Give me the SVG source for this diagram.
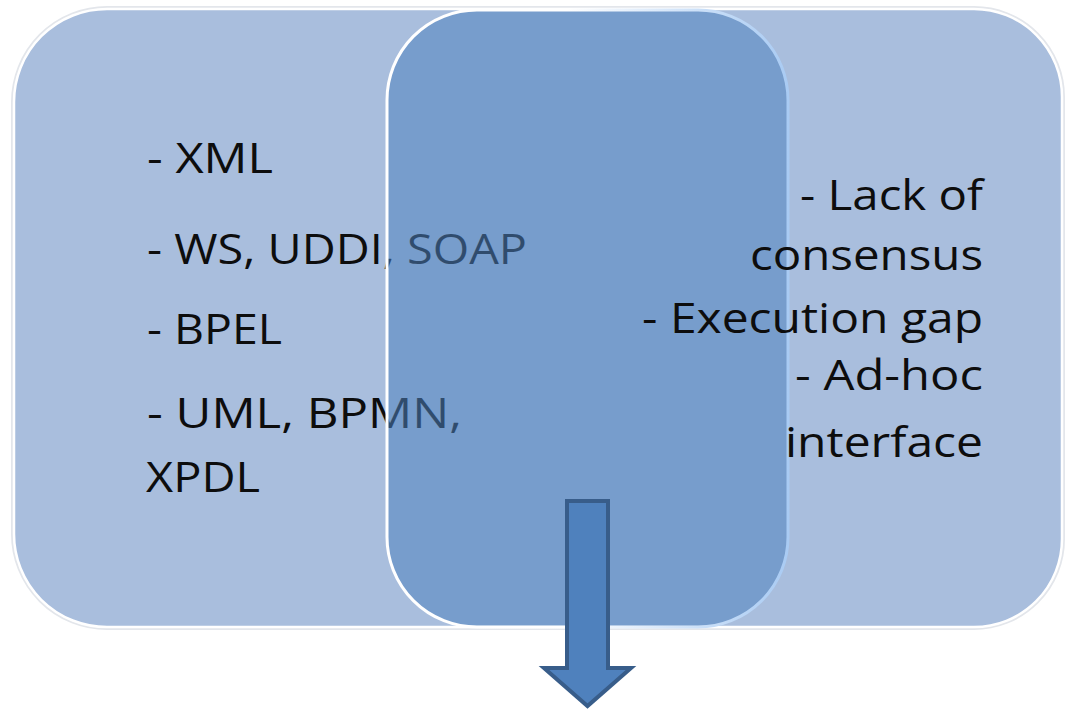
<svg xmlns="http://www.w3.org/2000/svg" width="1065" height="712" viewBox="0 0 1065 712">
  <defs>
    <style>
      .panel { fill: #a9bedd; stroke: #ffffff; stroke-width: 2.5; }
      .halo { fill: none; stroke: #e3e6eb; stroke-width: 6; }
      .label { font-family: "Open Sans", "Noto Sans", "Liberation Sans", sans-serif; font-size: 42px; fill: #0d0d0d; }
      .right { text-anchor: end; }
      .core { fill: #4f81bd; fill-opacity: 0.55; stroke: url(#coreEdge); stroke-width: 3; }
      .arrow { fill: #4f81bd; stroke: #385d8a; stroke-width: 4; stroke-linejoin: miter; }
    </style>
    <linearGradient id="coreEdge" x1="0" y1="0" x2="1" y2="0">
      <stop offset="0" stop-color="#ffffff"/>
      <stop offset="0.45" stop-color="#ffffff"/>
      <stop offset="1" stop-color="#a9cbf3"/>
    </linearGradient>
  </defs>

  <rect width="1065" height="712" fill="#ffffff"/>

  <!-- left panel: rounded on the left, open on the right where the panels join -->
  <g id="node-standards">
    <path class="halo" d="M600,627 H107 A93,93 0 0 1 14,534 V102 A93,93 0 0 1 107,9 H600"/>
    <path class="panel" d="M600,627 H107 A93,93 0 0 1 14,534 V102 A93,93 0 0 1 107,9 H600"/>
    <text class="label" x="147" y="173" textLength="126" lengthAdjust="spacingAndGlyphs">- XML</text>
    <text class="label" x="147" y="264" textLength="380" lengthAdjust="spacingAndGlyphs">- WS, UDDI, SOAP</text>
    <text class="label" x="147" y="344" textLength="135" lengthAdjust="spacingAndGlyphs">- BPEL</text>
    <text class="label" x="147" y="428" textLength="315" lengthAdjust="spacingAndGlyphs">- UML, BPMN,</text>
    <text class="label" x="146" y="492" textLength="114" lengthAdjust="spacingAndGlyphs">XPDL</text>
  </g>

  <!-- right panel: rounded on the right -->
  <g id="node-issues">
    <path class="halo" d="M600,9 H974 A88,88 0 0 1 1062,97 V539 A88,88 0 0 1 974,627 H600"/>
    <path class="panel" d="M600,9 H974 A88,88 0 0 1 1062,97 V539 A88,88 0 0 1 974,627 H600"/>
  </g>

  <!-- translucent centre panel overlapping both sides -->
  <g id="node-overlap">
    <rect class="core" x="387" y="10" width="401" height="617" rx="90" ry="90"/>
  </g>

  <!-- right panel labels sit above the centre panel -->
  <g id="node-issues-text">
    <text class="label right" x="983" y="210" textLength="183" lengthAdjust="spacingAndGlyphs">- Lack of</text>
    <text class="label right" x="983" y="270" textLength="233" lengthAdjust="spacingAndGlyphs">consensus</text>
    <text class="label right" x="983" y="333" textLength="341" lengthAdjust="spacingAndGlyphs">- Execution gap</text>
    <text class="label right" x="983" y="390" textLength="188" lengthAdjust="spacingAndGlyphs">- Ad-hoc</text>
    <text class="label right" x="983" y="457" textLength="198" lengthAdjust="spacingAndGlyphs">interface</text>
  </g>

  <!-- downward block arrow -->
  <g id="connectors">
    <path class="arrow" d="M567,501 H608 V668 H631 L587.5,706 L544,668 H567 Z"/>
  </g>
</svg>
